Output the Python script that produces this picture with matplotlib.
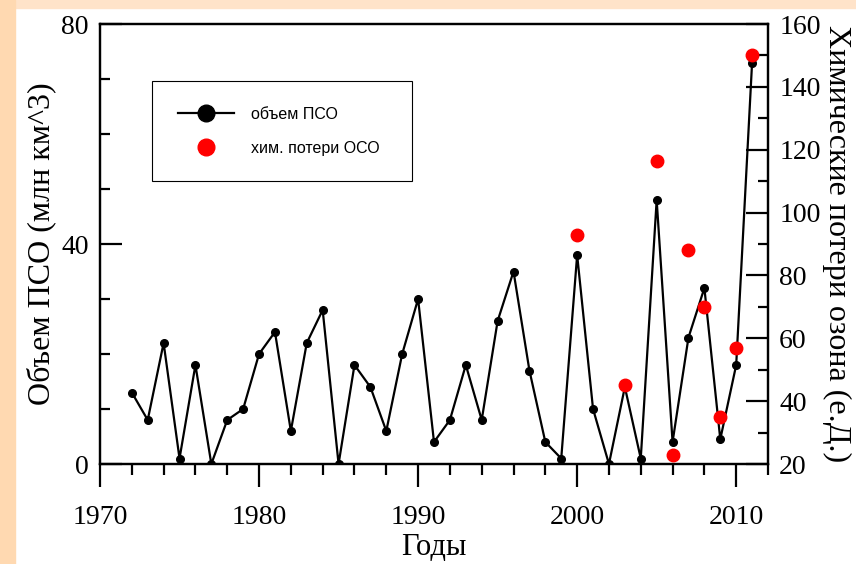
import matplotlib.pyplot as plt
from matplotlib.lines import Line2D
from matplotlib.patches import Rectangle
from matplotlib.ticker import MultipleLocator

# --- data ---
years = list(range(1972, 2012))
volume = [13, 8, 22, 1, 18, 0, 8, 10, 20, 24,
          6, 22, 28, 0, 18, 14, 6, 20, 30, 4,
          8, 18, 8, 26, 35, 17, 4, 1, 38, 10,
          0, 14, 1, 48, 4, 23, 32, 4.5, 18, 73]

loss_years = [2000, 2003, 2005, 2006, 2007, 2008, 2009, 2010, 2011]
loss = [93, 45, 116.5, 23, 88, 70, 35, 57, 150]

serif = ['Liberation Serif', 'DejaVu Serif']
sans = ['Liberation Sans', 'DejaVu Sans']

fig = plt.figure(figsize=(8.56, 5.64), dpi=100)
fig.patch.set_facecolor('white')

# slide-like border strips
fig.patches.append(Rectangle((0, 1 - 8 / 564), 1, 8 / 564, transform=fig.transFigure,
                             color='#ffe3c9', zorder=0))
fig.patches.append(Rectangle((0, 0), 15 / 856, 1, transform=fig.transFigure,
                             color='#ffd9b1', zorder=0))

ax = fig.add_axes([100 / 856, 1 - 464 / 564, 668 / 856, 440 / 564])
ax2 = ax.twinx()

ax.plot(years, volume, color='black', lw=1.6, marker='o', ms=5.5, zorder=3)
ax2.plot(loss_years, loss, ls='none', marker='o', ms=9, color='#ff0000',
         markeredgecolor='#ff0000', zorder=4)

ax.set_xlim(1970, 2012)
ax.set_ylim(0, 80)
ax2.set_ylim(20, 160)

ax.xaxis.set_major_locator(MultipleLocator(10))
ax.xaxis.set_minor_locator(MultipleLocator(2))
ax.yaxis.set_major_locator(MultipleLocator(40))
ax.yaxis.set_minor_locator(MultipleLocator(10))
ax2.yaxis.set_major_locator(MultipleLocator(20))
ax2.yaxis.set_minor_locator(MultipleLocator(10))

for a in (ax, ax2):
    for s in a.spines.values():
        s.set_linewidth(1.6)

ax.tick_params(axis='x', which='major', direction='out', length=16.5, width=1.6,
               pad=13, labelsize=20)
ax.tick_params(axis='x', which='minor', direction='out', length=8, width=1.6)
ax.tick_params(axis='y', which='major', direction='in', length=16, width=1.6,
               pad=8, labelsize=20)
ax.tick_params(axis='y', which='minor', direction='in', length=7.5, width=1.6)
ax2.tick_params(axis='y', which='major', direction='in', length=16, width=1.6,
                pad=8, labelsize=20)
ax2.tick_params(axis='y', which='minor', direction='in', length=7.5, width=1.6)

for lab in ax.get_xticklabels() + ax.get_yticklabels() + ax2.get_yticklabels():
    lab.set_family(serif)

ax.set_xlabel('Годы', family=serif, fontsize=22, labelpad=2)
ax.set_ylabel('Объем ПСО (млн км^3)', family=serif, fontsize=23, labelpad=4)
ax2.set_ylabel('Химические потери озона (е.Д.)', family=serif, fontsize=23,
               rotation=270, va='center')
ax2.yaxis.set_label_coords(1.102, 0.5)

handles = [
    Line2D([], [], color='black', lw=1.6, marker='o', ms=12),
    Line2D([], [], ls='none', marker='o', ms=12, color='#ff0000'),
]
leg = ax2.legend(handles, ['объем ПСО', 'хим. потери ОСО'],
                 loc='upper left', bbox_to_anchor=(0.078, 0.634, 0.389, 0.236),
                 mode='expand', prop={'family': sans, 'size': 11.5},
                 frameon=True, fancybox=False, edgecolor='black', framealpha=1,
                 borderpad=1.6, labelspacing=1.2, handlelength=3.5,
                 handletextpad=1.1, borderaxespad=0)
leg.get_frame().set_linewidth(0.8)

fig.savefig('out.png', dpi=100)
